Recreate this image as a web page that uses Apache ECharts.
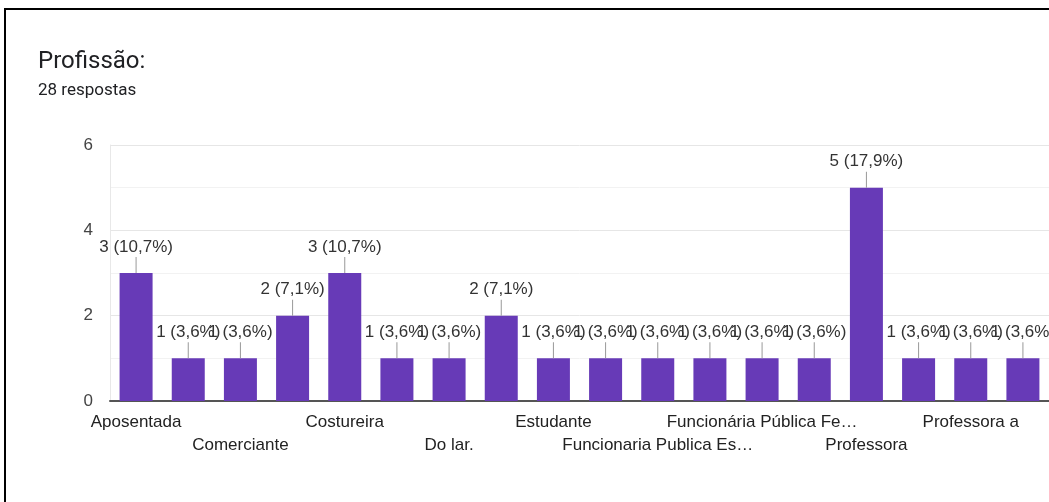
<!DOCTYPE html>
<html>
<head>
<meta charset="utf-8">
<script src="https://cdn.jsdelivr.net/npm/echarts@6/dist/echarts.min.js"></script>
<style>
  html, body { margin: 0; padding: 0; background: #fff; }
  #chart { width: 1049px; height: 502px; }
</style>
</head>
<body>
<div id="chart"></div>
<script>
// Answers to "Profissão:" (28 respostas); unnamed entries are categories whose labels are skipped on the axis
const categories = [
  'Aposentada', '', 'Comerciante', '', 'Costureira', '', 'Do lar.', '', 'Estudante',
  '', 'Funcionaria Publica Es…', '', 'Funcionária Pública Fe…', '', 'Professora', '', 'Professora a', ''
];
const counts = [3, 1, 1, 2, 3, 1, 1, 2, 1, 1, 1, 1, 1, 1, 5, 1, 1, 1];
const totalResponses = 28;
const yTicks = [0, 2, 4, 6];

const pct = v => (v / totalResponses * 100).toFixed(1).replace('.', ',');

const chart = echarts.init(document.getElementById('chart'), null, { renderer: 'canvas' });

chart.setOption({
  animation: false,
  backgroundColor: '#fff',
  title: [
    {
      text: 'Profissão:',
      left: 33, top: 45,
      textStyle: { fontFamily: 'Roboto', fontSize: 24, fontWeight: 'normal', color: '#202124' }
    },
    {
      text: '28 respostas',
      left: 33, top: 77,
      textStyle: { fontFamily: 'Roboto', fontSize: 17, fontWeight: 'normal', color: '#202124' }
    }
  ],
  graphic: [
    {
      type: 'rect',
      shape: { x: 5, y: 9, width: 1200, height: 700 },
      style: { fill: 'none', stroke: '#000', lineWidth: 2 },
      silent: true
    }
  ],
  grid: { left: 110, right: -2, top: 145, bottom: 101 },
  xAxis: {
    type: 'category',
    data: categories,
    axisLine: { show: true, lineStyle: { color: '#555', width: 2 } },
    axisTick: { show: false },
    axisLabel: {
      interval: 0,
      margin: 10,
      fontFamily: 'Liberation Sans, Arial',
      fontSize: 17,
      lineHeight: 23,
      color: '#222',
      formatter: (value, index) => {
        if (index % 2 === 1) return '';
        return index % 4 === 2 ? '\n' + value : value;
      }
    },
    splitLine: { show: false }
  },
  yAxis: {
    type: 'value',
    min: 0, max: 6, interval: 1,
    axisLine: { show: true, lineStyle: { color: '#e8e8e8', width: 1 } },
    axisTick: { show: false },
    axisLabel: {
      margin: 17,
      fontFamily: 'Liberation Sans, Arial',
      fontSize: 17,
      color: '#444',
      formatter: v => (yTicks.indexOf(v) >= 0 ? String(v) : '')
    },
    splitLine: { show: true, lineStyle: { color: ['#e6e6e6', '#f2f2f2'], width: 1 } }
  },
  series: [
    {
      type: 'bar',
      data: counts,
      barWidth: 33,
      itemStyle: { color: '#673ab7' },
      label: {
        show: true,
        position: 'top',
        distance: 0,
        formatter: p => '{t|' + p.value + ' (' + pct(p.value) + '%)}\n{l|}',
        rich: {
          t: { fontFamily: 'Liberation Sans, Arial', fontSize: 17, lineHeight: 20, color: '#333' },
          l: { width: 1, height: 16, backgroundColor: '#999' }
        }
      }
    }
  ]
});
</script>
</body>
</html>
